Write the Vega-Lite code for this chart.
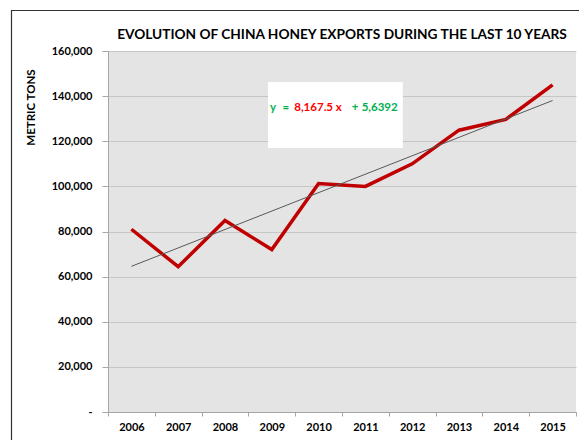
{
  "$schema": "https://vega.github.io/schema/vega-lite/v6.json",
  "width": 468,
  "height": 361,
  "autosize": "none",
  "padding": {"left": 108, "top": 51, "right": 3, "bottom": 28},
  "background": "white",
  "title": {
    "text": "EVOLUTION OF CHINA HONEY EXPORTS DURING THE LAST 10 YEARS",
    "font": "Lato",
    "fontSize": 13.7,
    "fontWeight": "bold",
    "color": "#000000",
    "anchor": "middle",
    "frame": "group",
    "offset": -32
  },
  "config": {
    "view": {"fill": "#e4e4e4", "stroke": null},
    "font": "Lato"
  },
  "datasets": {
    "exports": [
      {"year": "2006", "tons": 81000},
      {"year": "2007", "tons": 64400},
      {"year": "2008", "tons": 84900},
      {"year": "2009", "tons": 72000},
      {"year": "2010", "tons": 101300},
      {"year": "2011", "tons": 100000},
      {"year": "2012", "tons": 110000},
      {"year": "2013", "tons": 124900},
      {"year": "2014", "tons": 129700},
      {"year": "2015", "tons": 145000}
    ],
    "trend": [
      {"year": "2006", "tons": 64560},
      {"year": "2015", "tons": 138067}
    ],
    "frame": [
      {"x": -2.062, "x2": 10.5, "tons": 177950, "tons2": -20000}
    ],
    "box": [
      {"x": 3.42, "x2": 6.30, "tons": 146300, "tons2": 117000}
    ],
    "equation": [
      {"x": 3.46, "tons": 134600, "label": "y", "part": "eq"},
      {"x": 3.73, "tons": 134600, "label": "=", "part": "eq"},
      {"x": 3.98, "tons": 134600, "label": "8,167.5 x", "part": "slope"},
      {"x": 5.21, "tons": 134600, "label": "+", "part": "eq"},
      {"x": 5.42, "tons": 134600, "label": "5,6392", "part": "eq"}
    ]
  },
  "layer": [
    {
      "layer": [
        {
          "data": {"name": "exports"},
          "mark": {"type": "line", "color": "#c00000", "strokeWidth": 3.5},
          "encoding": {
            "x": {
              "field": "year",
              "type": "ordinal",
              "scale": {"type": "band", "paddingInner": 0, "paddingOuter": 0},
              "axis": {
                "title": null,
                "labelAngle": 0,
                "labelFont": "Lato",
                "labelFontSize": 11,
                "labelFontWeight": "bold",
                "labelColor": "#000000",
                "labelPadding": 5,
                "tickBand": "extent",
                "tickSize": 4,
                "tickColor": "#a6a6a6",
                "domainColor": "#a6a6a6",
                "grid": false
              }
            },
            "y": {
              "field": "tons",
              "type": "quantitative",
              "scale": {"domain": [0, 160000], "nice": false},
              "axis": {
                "title": "METRIC TONS",
                "titleFont": "Lato",
                "titleFontSize": 11.5,
                "titleFontWeight": "bold",
                "titleColor": "#000000",
                "titleX": -77,
                "titleY": 56,
                "titleAngle": 270,
                "titleAlign": "center",
                "titleBaseline": "middle",
                "values": [0, 20000, 40000, 60000, 80000, 100000, 120000, 140000, 160000],
                "labelExpr": "datum.value === 0 ? '-' : format(datum.value, ',')",
                "labelFont": "Lato",
                "labelFontSize": 11,
                "labelFontWeight": "bold",
                "labelColor": "#000000",
                "labelPadding": 10,
                "tickSize": 6,
                "tickColor": "#a6a6a6",
                "domainColor": "#a6a6a6",
                "grid": true,
                "gridColor": "#c6c6c6",
                "gridWidth": 1
              }
            }
          }
        },
        {
          "data": {"name": "trend"},
          "mark": {"type": "line", "color": "#595959", "strokeWidth": 1},
          "encoding": {
            "x": {"field": "year", "type": "ordinal", "scale": {"type": "band", "paddingInner": 0, "paddingOuter": 0}},
            "y": {"field": "tons", "type": "quantitative", "scale": {"domain": [0, 160000], "nice": false}}
          }
        }
      ]
    },
    {
      "layer": [
        {
          "data": {"name": "frame"},
          "mark": {"type": "rect", "fill": null, "fillOpacity": 0, "stroke": "#333333", "strokeWidth": 1.2},
          "encoding": {
            "x": {"field": "x", "type": "quantitative", "scale": {"domain": [0, 10], "nice": false, "zero": false}, "axis": null},
            "x2": {"field": "x2"},
            "y": {"field": "tons", "type": "quantitative", "scale": {"domain": [0, 160000], "nice": false}},
            "y2": {"field": "tons2"}
          }
        },
        {
          "data": {"name": "box"},
          "mark": {"type": "rect", "fill": "#ffffff"},
          "encoding": {
            "x": {"field": "x", "type": "quantitative", "scale": {"domain": [0, 10], "nice": false, "zero": false}, "axis": null},
            "x2": {"field": "x2"},
            "y": {"field": "tons", "type": "quantitative", "scale": {"domain": [0, 160000], "nice": false}},
            "y2": {"field": "tons2"}
          }
        },
        {
          "data": {"name": "equation"},
          "mark": {"type": "text", "align": "left", "baseline": "middle", "font": "Lato", "fontSize": 11.5, "fontWeight": "bold"},
          "encoding": {
            "x": {"field": "x", "type": "quantitative", "scale": {"domain": [0, 10], "nice": false, "zero": false}, "axis": null},
            "y": {"field": "tons", "type": "quantitative", "scale": {"domain": [0, 160000], "nice": false}},
            "text": {"field": "label"},
            "color": {
              "field": "part",
              "type": "nominal",
              "scale": {"domain": ["eq", "slope"], "range": ["#00b050", "#ff0000"]},
              "legend": null
            }
          }
        }
      ]
    }
  ],
  "resolve": {"scale": {"x": "independent"}, "axis": {"x": "independent"}}
}
